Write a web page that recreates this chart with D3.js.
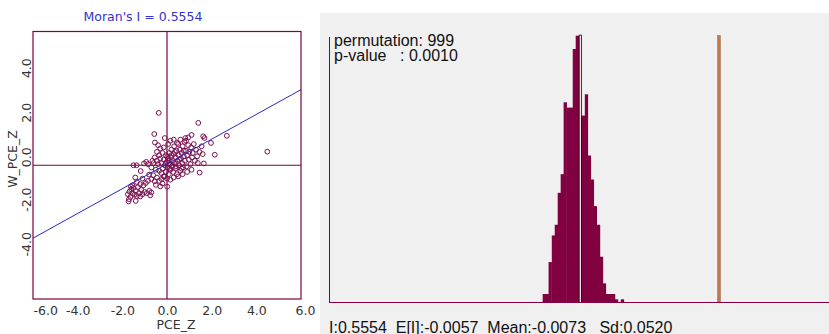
<!DOCTYPE html>
<html>
<head>
<meta charset="utf-8">
<script src="https://cdn.jsdelivr.net/npm/d3@7"></script>
<style>
body { margin: 0; background: #fff; }
svg { display: block; }
</style>
</head>
<body>
<div id="chart"></div>
<script>
// Moran scatter: [PCE_Z, W_PCE_Z]
var moranPts = [
  [-0.37,2.35],[1.40,1.90],[2.68,1.32],[-0.57,1.40],[-0.54,1.02],[-0.10,1.22],[1.10,1.36],[1.62,1.30],
  [1.68,1.22],[1.97,1.00],[0.82,1.22],[2.14,0.47],[4.49,0.61],[1.65,0.08],[1.46,-0.33],[0.01,-0.96],
  [-1.72,-1.62],[-1.70,-1.52],[-1.64,-1.42],[-1.40,-1.60],[-1.75,-1.30],[-1.68,-1.18],[-1.60,-1.08],[-1.55,-1.25],
  [-1.50,-1.02],[-1.45,-1.32],[-1.40,-1.15],[-1.35,-1.38],[-1.30,-0.98],[-1.25,-1.25],[-1.20,-1.40],[-1.15,-1.10],
  [-1.10,-1.30],[-1.05,-0.90],[-1.00,-1.20],[-0.90,-1.25],[-0.80,-1.15],[-0.75,-1.35],[-0.70,-1.22],[-0.95,-0.80],
  [-0.85,-0.70],[-1.20,-0.85],[-1.35,-0.75],[-1.55,-0.90],[-1.62,-0.95],[-1.10,-0.60],[-1.42,-0.55],[-0.70,-0.62],
  [-0.80,-0.42],[-0.62,-0.45],[-0.55,-0.72],[-0.50,-0.88],[-0.45,-0.55],[-0.35,-0.70],[-0.30,-0.95],[-0.25,-0.62],
  [-0.20,-0.82],[-0.15,-0.50],[-1.50,0.00],[-1.36,0.00],[-1.03,0.08],[-0.93,0.15],[-1.18,-0.26],[-0.85,0.05],
  [-0.70,-0.10],[-0.60,0.10],[-0.50,-0.20],[-0.45,0.20],[-0.40,0.05],[-0.35,-0.25],[-0.30,0.30],[-0.25,0.10],
  [-0.20,-0.15],[-0.15,0.25],[-0.10,0.00],[-0.05,-0.30],[-0.05,0.45],
  [0.00,0.15],[0.03,-0.10],[0.05,0.30],[0.08,-0.40],[0.10,0.55],[0.12,0.05],[0.15,-0.20],[0.18,0.35],
  [0.20,0.70],[0.22,-0.05],[0.25,0.20],[0.28,-0.30],[0.30,0.50],[0.32,0.85],[0.35,0.10],[0.38,-0.15],
  [0.40,0.35],[0.42,0.65],[0.45,-0.40],[0.48,0.20],[0.50,0.95],[0.52,0.45],[0.55,0.00],[0.58,0.70],
  [0.60,-0.25],[0.62,0.30],[0.65,0.55],[0.68,0.10],[0.70,0.85],[0.72,-0.10],[0.75,0.40],[0.78,1.05],
  [0.80,0.20],[0.85,0.65],[0.88,-0.05],[0.90,0.45],[0.95,0.90],[0.98,0.25],[1.00,0.60],[1.05,0.05],
  [1.08,0.80],[1.12,0.35],[1.15,0.55],[1.20,0.95],[1.25,0.20],[1.30,0.70],[1.35,0.40],[1.38,0.10],
  [1.45,0.60],[1.55,0.85],[1.60,0.50],[1.10,-0.20],[0.90,-0.30],[0.70,-0.40],[0.50,-0.50],[0.30,-0.55],
  [0.15,-0.65],[-0.10,-0.50],[-0.20,0.55],[-0.30,0.75],[-0.35,0.45],[-0.45,0.60],[-0.55,0.35],[-0.65,0.20],
  [-0.40,0.90],[-0.15,0.80],[0.05,0.95],[0.15,1.10],[0.30,1.15],[0.45,1.00],[0.60,1.15],[0.85,1.10],
  [0.95,1.25],[-0.25,-0.35],[0.00,-0.60],[-0.05,0.10],[0.02,0.40],[0.08,0.20],[0.12,-0.15],[0.20,0.45],
  [0.25,0.00],[0.35,0.60],[0.40,-0.05],[0.55,0.25],[0.65,-0.15],[0.75,0.65]
];
var xTicks = [-6, -4, -2, 0, 2, 4, 6];
var yTicks = [-4, -2, 0, 2, 4];
var moranI = 0.5554;
var fitIntercept = 0.06;

// permutation histogram (999 runs)
var binLo = [-0.160,-0.148,-0.136,-0.123,-0.111,-0.099,-0.087,-0.075,-0.062,-0.050,-0.038,-0.026,-0.014,
             -0.001,0.011,0.023,0.035,0.047,0.060,0.072,0.084,0.096,0.108,0.121,0.133,0.145,0.157];
var binCount = [3,3,15,25,29,41,48,75,73,73,95,100,70,70,78,55,46,36,29,17,7,3,3,3,1,0,1];
var binWidth = 0.0122;
var permutations = 999;
var pValue = '0.0010';
var expectedI = -0.0057;
var permMean = -0.0073;
var permSd = 0.0520;

var maroon = '#800040';

var svg = d3.select('#chart').append('svg')
    .attr('width', 829).attr('height', 334);

// ---------- left: Moran scatter plot ----------
var x = d3.scaleLinear().domain([-6, 6]).range([33, 301]);
var y = d3.scaleLinear().domain([-6, 6]).range([299, 31.5]);

var left = svg.append('g');

left.append('text')
    .attr('x', 143).attr('y', 21)
    .attr('text-anchor', 'middle')
    .style('font', '12.5px "DejaVu Sans"')
    .style('fill', '#3333cc')
    .text("Moran's I = " + moranI.toFixed(4));

var clipId = 'plotclip';
left.append('clipPath').attr('id', clipId)
  .append('rect').attr('x', 33).attr('y', 31.5).attr('width', 268).attr('height', 267.5);

var plot = left.append('g').attr('clip-path', 'url(#' + clipId + ')');

plot.append('line')
    .attr('x1', x(-6)).attr('x2', x(6))
    .attr('y1', y(0)).attr('y2', y(0))
    .style('stroke', maroon).style('stroke-width', 1.2);
plot.append('line')
    .attr('x1', x(0)).attr('x2', x(0))
    .attr('y1', y(-6)).attr('y2', y(6))
    .style('stroke', maroon).style('stroke-width', 1.2);

plot.selectAll('circle')
    .data(moranPts)
    .enter()
    .append('circle')
    .attr('cx', function(d) { return x(d[0]); })
    .attr('cy', function(d) { return y(d[1]); })
    .attr('r', 2.4)
    .style('fill', 'none')
    .style('stroke', '#7a1050')
    .style('stroke-width', 1);

plot.append('line')
    .attr('x1', x(-6)).attr('y1', y(fitIntercept + moranI * -6))
    .attr('x2', x(6)).attr('y2', y(fitIntercept + moranI * 6))
    .style('stroke', '#2828c8').style('stroke-width', 1);

left.append('rect')
    .attr('x', 33).attr('y', 31.5).attr('width', 268).attr('height', 267.5)
    .style('fill', 'none').style('stroke', maroon).style('stroke-width', 1.2);

// x axis labels
var xAxis = d3.axisBottom(x).tickValues(xTicks).tickSize(0).tickPadding(7)
    .tickFormat(function(d) { return d.toFixed(1); });
var gx = left.append('g').attr('transform', 'translate(0,299)').call(xAxis);
gx.select('.domain').remove();
gx.selectAll('text').style('font', '12.5px "DejaVu Sans"').style('fill', '#333');
gx.selectAll('text').filter(function(d) { return d === -6; })
    .attr('text-anchor', 'start').attr('dx', 0);
gx.selectAll('text').filter(function(d) { return d === 6; })
    .attr('dx', 4);

// y axis labels (rotated, reading upwards from the tick)
left.selectAll('.ylab')
    .data(yTicks)
    .enter()
    .append('text')
    .attr('class', 'ylab')
    .attr('transform', function(d) { return 'translate(31,' + (y(d) + 2) + ') rotate(-90)'; })
    .attr('text-anchor', 'start')
    .style('font', '12.5px "DejaVu Sans"')
    .style('fill', '#333')
    .text(function(d) { return d.toFixed(1); });

left.append('text')
    .attr('x', 176).attr('y', 329)
    .attr('text-anchor', 'middle')
    .style('font', '12.5px "DejaVu Sans"')
    .style('fill', '#333')
    .text('PCE_Z');

left.append('text')
    .attr('transform', 'translate(17,159) rotate(-90)')
    .attr('text-anchor', 'middle')
    .style('font', '12.5px "DejaVu Sans"')
    .style('fill', '#333')
    .text('W_PCE_Z');

// ---------- right: permutation histogram ----------
var right = svg.append('g');
right.append('rect')
    .attr('x', 320).attr('y', 13).attr('width', 509).attr('height', 321)
    .style('fill', '#f0f0f0');

var xH = d3.scaleLinear().domain([-1, 1]).range([335.6, 828.6]);
var yH = d3.scaleLinear().domain([0, 100]).range([302, 35.7]);

right.selectAll('rect.bin')
    .data(binLo)
    .enter()
    .append('rect')
    .attr('class', 'bin')
    .attr('x', function(d) { return xH(d); })
    .attr('y', function(d, i) { return yH(binCount[i]); })
    .attr('width', function(d) { return xH(d + binWidth) - xH(d) + 0.3; })
    .attr('height', function(d, i) { return yH(0) - yH(binCount[i]); })
    .style('fill', maroon);

// mean of permutations
var xm = xH(permMean);
right.append('rect')
    .attr('x', xm - 1.5).attr('y', 34.7).attr('width', 3).attr('height', 302 - 34.7)
    .style('fill', '#111');
right.append('rect')
    .attr('x', xm - 0.6).attr('y', 35.5).attr('width', 1.2).attr('height', 302 - 35.5)
    .style('fill', '#fff');

// observed I
var xo = xH(moranI);
right.append('rect')
    .attr('x', xo - 1.4).attr('y', 35.7).attr('width', 2.8).attr('height', 302 - 35.7)
    .style('fill', '#c07848').style('stroke', '#8a4a30').style('stroke-width', 0.4);

right.append('line')
    .attr('x1', 329.5).attr('x2', 329.5).attr('y1', 37).attr('y2', 302.5)
    .style('stroke', maroon).style('stroke-width', 1);
right.append('line')
    .attr('x1', 329).attr('x2', 829).attr('y1', 302.5).attr('y2', 302.5)
    .style('stroke', maroon).style('stroke-width', 1);

var txtFont = '16px "Liberation Sans"';
right.append('text')
    .attr('x', 334).attr('y', 45.7)
    .style('font', txtFont).style('fill', '#111')
    .text('permutation: ' + permutations);
right.append('text')
    .attr('x', 334).attr('y', 60.7)
    .style('font', txtFont).style('fill', '#111')
    .text('p-value');
right.append('text')
    .attr('x', 400).attr('y', 60.7)
    .style('font', txtFont).style('fill', '#111')
    .text(': ' + pValue);

right.append('text')
    .attr('x', 329).attr('y', 333)
    .attr('xml:space', 'preserve')
    .style('white-space', 'pre')
    .style('font', txtFont).style('fill', '#111')
    .text('I:' + moranI.toFixed(4) + '  E[I]:' + expectedI.toFixed(4) +
          '  Mean:' + permMean.toFixed(4) + '   Sd:' + permSd.toFixed(4));
</script>
</body>
</html>
